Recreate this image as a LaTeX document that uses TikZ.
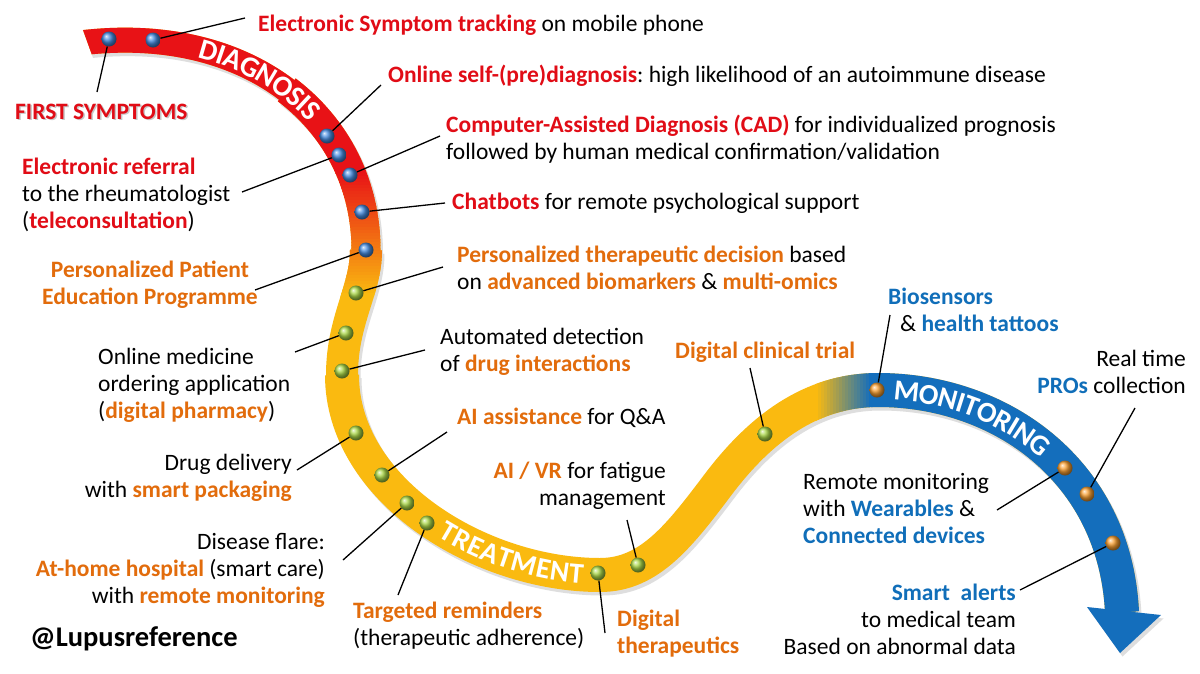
\documentclass[tikz,border=0pt]{standalone}
\usepackage{fontspec}
\setmainfont{Carlito}
\usetikzlibrary{decorations.text}
\frenchspacing
\definecolor{ribRed}{RGB}{232,18,22}
\definecolor{ribYellow}{RGB}{250,186,16}
\definecolor{ribBlue}{RGB}{20,110,188}
\definecolor{txtRed}{RGB}{225,12,22}
\definecolor{txtOrange}{RGB}{226,108,12}
\definecolor{txtBlue}{RGB}{16,110,185}
\definecolor{dotBlue}{RGB}{70,140,225}
\definecolor{dotGreen}{RGB}{170,215,70}
\definecolor{dotOrange}{RGB}{250,160,50}
\newcommand{\txr}[1]{{\bfseries\color{txtRed}#1}}
\newcommand{\txo}[1]{{\bfseries\color{txtOrange}#1}}
\newcommand{\txb}[1]{{\bfseries\color{txtBlue}#1}}
\newcommand{\ribfont}{\fontsize{29}{29}\selectfont\bfseries\color{white}}
% ribbon centre line pieces
\def\pA{(80,43) .. controls (165,32.5) and (236.5,51.75) .. (286.75,89.875)}
\def\pB{.. controls (337,128) and (366,185) .. (366,250)}
\def\pC{.. controls (366,290) and (342,320) .. (342,375)}
\def\pD{.. controls (342,490) and (480,575) .. (600,575) .. controls (650,575) and (680,535) .. (720,482) .. controls (760,430) and (810,390) .. (878,390) .. controls (1000,390) and (1115,470) .. (1122,612)}
\newcommand{\ribbon}[1]{%
  \draw[#1, line width=25pt] \pA \pB \pC \pD;
  \draw[#1, line width=29pt] (286.75,89.875) \pB \pC \pD;
  \draw[#1, line width=32pt] (366,250) \pC \pD;
  \draw[#1, line width=34pt] (342,375) \pD;
}
\tikzset{
  lbl/.style={font=\fontsize{23.5}{27}\selectfont, inner sep=0pt},
  conn/.style={draw=black, line width=1.3pt},
  dotb/.style={circle, minimum size=15pt, inner sep=0pt, ball color=dotBlue},
  dotg/.style={circle, minimum size=15pt, inner sep=0pt, ball color=dotGreen},
  doto/.style={circle, minimum size=15pt, inner sep=0pt, ball color=dotOrange},
}
\begin{document}
\begin{tikzpicture}[x=1pt,y=-1pt]
\useasboundingbox[fill=white] (0,0) rectangle (1200,673);

% ---------- ribbon ----------
\begin{scope}
\clip (72.2,0) -- (1200,0) -- (1200,673) -- (200,673) -- (108.2,100) -- cycle;
\begin{scope}[shift={(2.5,3.5)}]
  \ribbon{black!13}
  \fill[black!13] (1087,607) -- (1161,615) -- (1120,653) -- cycle;
\end{scope}
\ribbon{ribYellow}
\begin{scope}
  \clip (0,0) rectangle (500,170.5);
  \ribbon{ribRed}
\end{scope}
\foreach \i in {0,...,41}{
  \pgfmathsetmacro{\yy}{170+3*\i}
  \pgfmathtruncatemacro{\pp}{100*\i/41}
  \begin{scope}
    \clip (250,\yy) rectangle (500,\yy+3.6);
    \colorlet{bandc}{ribYellow!\pp!ribRed}
    \ribbon{bandc}
  \end{scope}
}
\begin{scope}
  \clip (871,300) rectangle (1200,673);
  \ribbon{ribBlue}
\end{scope}
\foreach \i in {0,...,18}{
  \pgfmathsetmacro{\xx}{815+3*\i}
  \pgfmathtruncatemacro{\pp}{100*\i/18}
  \begin{scope}
    \clip (\xx,330) rectangle (\xx+3.6,470);
    \colorlet{bandc}{ribBlue!\pp!ribYellow}
    \ribbon{bandc}
  \end{scope}
}
\fill[ribBlue] (1087,607) -- (1161,615) -- (1120,653) -- cycle;
\end{scope}

% ribbon words
\path[decorate, decoration={text along path, text={|\ribfont|DIAGNOSIS},
  text align={left indent=121pt}, raise=-9pt}] \pA \pB;
\path[decorate, decoration={text along path, text={|\ribfont|TREATMENT},
  text align={left indent=192pt}, raise=-9pt}] (342,375) .. controls (342,490) and (480,575) .. (600,575);
\path[decorate, decoration={text along path, text={|\ribfont|MONITORING},
  text align={left indent=16pt}, raise=-9.5pt}] (878,390) .. controls (1000,390) and (1115,470) .. (1122,612);

% ---------- dots ----------
\node[dotb] (d1) at (109,39) {};
\node[dotb] (d2) at (153,40) {};
\node[dotb] (d3) at (327,136) {};
\node[dotb] (d4) at (339,155) {};
\node[dotb] (d5) at (350,175) {};
\node[dotb] (d6) at (362,212) {};
\node[dotb] (d7) at (366,250) {};
\node[dotg] (g1) at (356,293) {};
\node[dotg] (g2) at (346,333) {};
\node[dotg] (g3) at (342,371) {};
\node[dotg] (g4) at (356,433) {};
\node[dotg] (g5) at (382,475) {};
\node[dotg] (g6) at (407,503) {};
\node[dotg] (g7) at (427,523) {};
\node[dotg] (g8) at (598,573) {};
\node[dotg] (g9) at (638,565) {};
\node[dotg] (g10) at (765,434) {};
\node[doto] (o1) at (877,390) {};
\node[doto] (o2) at (1065,468) {};
\node[doto] (o3) at (1087,494) {};
\node[doto] (o4) at (1113,543) {};

% ---------- labels (base anchor = baseline of last line) ----------
\node[lbl, anchor=base west, text=black!22] (t0s) at (16.5,120.8) {\bfseries FIRST SYMPTOMS};
\node[lbl, anchor=base west] (t0) at (15,119) {\txr{FIRST SYMPTOMS}};
\node[lbl, anchor=base west] (t1) at (258,31) {\txr{Electronic Symptom tracking} on mobile phone};
\node[lbl, anchor=base west] (t2) at (388,82) {\txr{Online self-(pre)diagnosis}: high likelihood of an autoimmune disease};
\node[lbl, anchor=base west, align=left] (t3) at (446,159) {\txr{Computer-Assisted Diagnosis (CAD)} for individualized prognosis\\followed by human medical confirmation/validation};
\node[lbl, anchor=base west] (t4) at (452,209) {\txr{Chatbots} for remote psychological support};
\node[lbl, anchor=base west, align=left] (t5) at (457,289) {\txo{Personalized therapeutic decision} based\\on \txo{advanced biomarkers} \& \txo{multi-omics}};
\node[lbl, anchor=base west, align=left] (t6) at (440,371) {Automated detection\\of \txo{drug interactions}};
\node[lbl, anchor=base west] (t7) at (457,424) {\txo{AI assistance} for Q\&A};
\node[lbl, anchor=base east, align=right] (t8) at (666,505) {\txo{AI / VR} for fatigue\\management};
\node[lbl, anchor=base west] (t9) at (675,358) {\txo{Digital clinical trial}};
\node[lbl, anchor=base west, align=left] (t10) at (888,331) {\txb{Biosensors}\\\hspace*{12pt}\& \txb{health tattoos}};
\node[lbl, anchor=base east, align=right] (t11) at (1186,393) {Real time\\\txb{PROs} collection};
\node[lbl, anchor=base west, align=left] (t12) at (803,543) {Remote monitoring\\with \txb{Wearables} \&\\\txb{Connected devices}};
\node[lbl, anchor=base east, align=right] (t13) at (1016,654) {\txb{Smart~ alerts}\\to medical team\\Based on abnormal data};
\node[lbl, anchor=base west, align=left] (t14) at (617,653) {\txo{Digital}\\\txo{therapeutics}};
\node[lbl, anchor=base west, align=left] (t15) at (353,645) {\txo{Targeted reminders}\\(therapeutic adherence)};
\node[lbl, anchor=base east, align=right] (t16) at (325,603) {Disease flare:\\\txo{At-home hospital} (smart care)\\with \txo{remote monitoring}};
\node[lbl, anchor=base east, align=right] (t17) at (292,497) {Drug delivery\\with \txo{smart packaging}};
\node[lbl, anchor=base west, align=left] (t18) at (98,418) {Online medicine\\ordering application\\(\txo{digital pharmacy})};
\node[lbl, anchor=base, align=center] (t19) at (150,304) {\txo{Personalized Patient}\\\txo{Education Programme}};
\node[lbl, anchor=base west, align=left] (t20) at (22,228) {\txr{Electronic referral}\\to the rheumatologist\\(\txr{teleconsultation})};
\node[anchor=base west, inner sep=0pt, font=\fontsize{28.5}{30}\selectfont\bfseries] (t21) at (30,646) {@Lupusreference};

% ---------- connector ends ----------
\coordinate (c0) at (97,92);
\coordinate (c1) at (245,18);
\coordinate (c2) at (381,85);
\coordinate (c20) at (242,192);
\coordinate (c3) at (440,136);
\coordinate (c4) at (445,203);
\coordinate (c19) at (255,290);
\coordinate (c5) at (443,267);
\coordinate (c18) at (295,352);
\coordinate (c6) at (425,350);
\coordinate (c17) at (297,470);
\coordinate (c7) at (447,432);
\coordinate (c16) at (343,560);
\coordinate (c15) at (398,595);
\coordinate (c14) at (605,633);
\coordinate (c8) at (627,520);
\coordinate (c9) at (750,368);
\coordinate (c10) at (890,315);
\coordinate (c12) at (997,510);
\coordinate (c11) at (1135,408);
\coordinate (c13) at (1020,590);

\draw[conn] (d1) -- (c0);
\draw[conn] (d2) -- (c1);
\draw[conn] (d3) -- (c2);
\draw[conn] (d4) -- (c20);
\draw[conn] (d5) -- (c3);
\draw[conn] (d6) -- (c4);
\draw[conn] (d7) -- (c19);
\draw[conn] (g1) -- (c5);
\draw[conn] (g2) -- (c18);
\draw[conn] (g3) -- (c6);
\draw[conn] (g4) -- (c17);
\draw[conn] (g5) -- (c7);
\draw[conn] (g6) -- (c16);
\draw[conn] (g7) -- (c15);
\draw[conn] (g8) -- (c14);
\draw[conn] (g9) -- (c8);
\draw[conn] (g10) -- (c9);
\draw[conn] (o1) -- (c10);
\draw[conn] (o2) -- (c12);
\draw[conn] (o3) -- (c11);
\draw[conn] (o4) -- (c13);
\end{tikzpicture}
\end{document}
